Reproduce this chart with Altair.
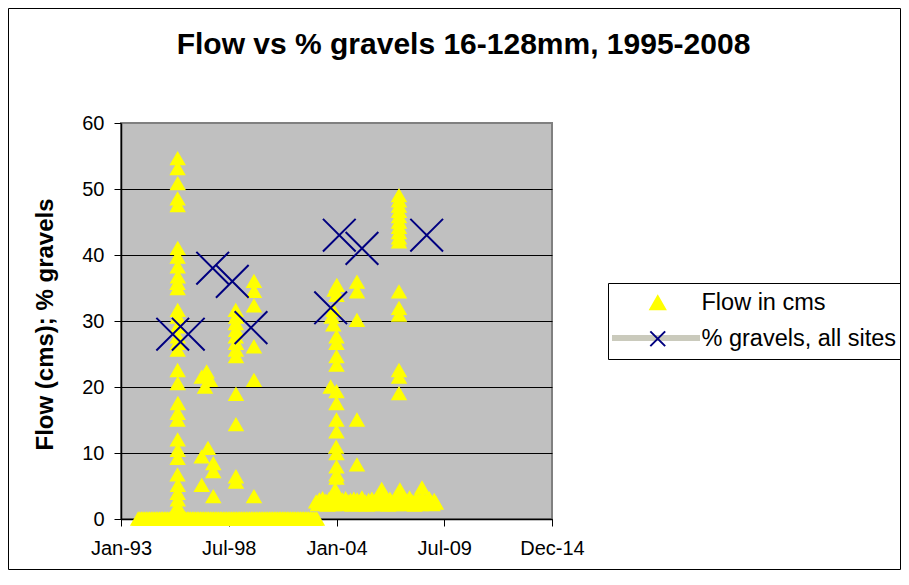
import altair as alt
import pandas as pd

TITLE = "Flow vs % gravels 16-128mm, 1995-2008"
Y_TITLE = "Flow (cms); % gravels"
SERIES = ["Flow in cms", "% gravels, all sites"]
SERIES_COLORS = ["#FFFF00", "#000080"]
X_SHAPE = "M-1,-1L1,1M-1,1L1,-1"
Y_TICKS = [0, 10, 20, 30, 40, 50, 60]
X_TICKS = [(1993, 1, 31), (1998, 7, 24), (2004, 1, 14), (2009, 7, 6), (2014, 12, 27)]

# % gravels, all sites
GRAVEL_DATES = ["1995-09-18", "1996-07-03", "1997-09-29", "1998-09-28", "1999-09-10",
                "2003-09-28", "2004-03-06", "2005-05-01", "2008-08-14"]
GRAVEL_PCT = [28, 28, 38, 36, 29, 32, 43, 41, 43]

# Flow in cms: readings at zero, 1993-2003
FLOW_ZERO_DATES = [
    "1993-12-15",
    "1994-01-15", "1994-02-15", "1994-03-15", "1994-04-15", "1994-05-15", "1994-06-15",
    "1994-07-15", "1994-08-15", "1994-09-15", "1994-10-15", "1994-11-15", "1994-12-15",
    "1995-01-15", "1995-02-15", "1995-03-15", "1995-04-15", "1995-05-15", "1995-06-15",
    "1995-07-15", "1995-08-15", "1995-09-15", "1995-10-15", "1995-11-15", "1995-12-15",
    "1996-01-15", "1996-02-15", "1996-03-15", "1996-04-15", "1996-05-15", "1996-06-15",
    "1996-07-15", "1996-08-15", "1996-09-15", "1996-10-15", "1996-11-15", "1996-12-15",
    "1997-01-15", "1997-02-15", "1997-03-15", "1997-04-15", "1997-05-15", "1997-06-15",
    "1997-07-15", "1997-08-15", "1997-09-15", "1997-10-15", "1997-11-15", "1997-12-15",
    "1998-01-15", "1998-02-15", "1998-03-15", "1998-04-15", "1998-05-15", "1998-06-15",
    "1998-07-15", "1998-08-15", "1998-09-15", "1998-10-15", "1998-11-15", "1998-12-15",
    "1999-01-15", "1999-02-15", "1999-03-15", "1999-04-15", "1999-05-15", "1999-06-15",
    "1999-07-15", "1999-08-15", "1999-09-15", "1999-10-15", "1999-11-15", "1999-12-15",
    "2000-01-15", "2000-02-15", "2000-03-15", "2000-04-15", "2000-05-15", "2000-06-15",
    "2000-07-15", "2000-08-15", "2000-09-15", "2000-10-15", "2000-11-15", "2000-12-15",
    "2001-01-15", "2001-02-15", "2001-03-15", "2001-04-15", "2001-05-15", "2001-06-15",
    "2001-07-15", "2001-08-15", "2001-09-15", "2001-10-15", "2001-11-15", "2001-12-15",
    "2002-01-15", "2002-02-15", "2002-03-15", "2002-04-15", "2002-05-15", "2002-06-15",
    "2002-07-15", "2002-08-15", "2002-09-15", "2002-10-15", "2002-11-15", "2002-12-15",
    "2003-01-15",
]

# Flow in cms: low base flow, 2003-2009
FLOW_BASE_DATES = [
    "2003-01-01", "2003-02-01", "2003-03-01", "2003-04-01", "2003-05-01", "2003-06-01",
    "2003-07-01", "2003-08-01", "2003-09-01", "2003-10-01", "2003-11-01", "2003-12-01",
    "2004-01-01", "2004-02-01", "2004-03-01", "2004-04-01", "2004-05-01", "2004-06-01",
    "2004-07-01", "2004-08-01", "2004-09-01", "2004-10-01", "2004-11-01", "2004-12-01",
    "2005-01-01", "2005-02-01", "2005-03-01", "2005-04-01", "2005-05-01", "2005-06-01",
    "2005-07-01", "2005-08-01", "2005-09-01", "2005-10-01", "2005-11-01", "2005-12-01",
    "2006-01-01", "2006-02-01", "2006-03-01", "2006-04-01", "2006-05-01", "2006-06-01",
    "2006-07-01", "2006-08-01", "2006-09-01", "2006-10-01", "2006-11-01", "2006-12-01",
    "2007-01-01", "2007-02-01", "2007-03-01", "2007-04-01", "2007-05-01", "2007-06-01",
    "2007-07-01", "2007-08-01", "2007-09-01", "2007-10-01", "2007-11-01", "2007-12-01",
    "2008-01-01", "2008-02-01", "2008-03-01", "2008-04-01", "2008-05-01", "2008-06-01",
    "2008-07-01", "2008-08-01", "2008-09-01", "2008-10-01", "2008-11-01", "2008-12-01",
    "2009-01-01", "2009-02-01",
]
FLOW_BASE = [
    2.6, 2.2, 2.9, 2.4, 3.1, 2.3, 2.7, 2.1, 3.0, 2.5, 2.8, 2.2,
    3.2, 2.4, 2.7, 2.2, 2.9, 2.5, 3.1, 2.3, 2.6, 2.8, 2.1, 3.0,
    2.4, 2.9, 2.2, 2.7, 3.2, 2.3, 2.6, 2.1, 2.8, 2.5, 3.0, 2.2,
    2.7, 2.3, 3.1, 2.5, 2.2, 2.9, 2.4, 2.7, 2.1, 3.0, 2.6, 2.3,
    2.8, 2.2, 2.6, 3.1, 2.4, 2.9, 2.2, 2.7, 2.5, 3.2, 2.3, 2.6,
    2.1, 2.9, 2.4, 2.8, 2.2, 3.0, 2.5, 2.7, 2.3, 3.1, 2.6, 2.2,
    2.8, 2.4,
]

# Flow in cms: high-flow readings
FLOW_PEAK_DATES = [
    # winter 1995-96
    "1995-12-19", "1995-12-17", "1995-12-20", "1995-12-18", "1995-12-19",
    "1995-12-21", "1995-12-18", "1995-12-19", "1995-12-22", "1995-12-16", "1995-12-19",
    "1995-12-20", "1995-12-18", "1995-12-19", "1995-12-21", "1995-12-17", "1995-12-19",
    "1995-12-18", "1995-12-20", "1995-12-23", "1995-12-19", "1995-12-17",
    "1995-12-19", "1995-12-21", "1995-12-18",
    "1995-12-16", "1995-12-22", "1995-12-19", "1995-12-21", "1995-12-18", "1995-12-20",
    # 1997
    "1997-06-09", "1997-03-09", "1997-08-10", "1997-05-09", "1997-07-04",
    "1997-03-09", "1997-10-10", "1997-10-10", "1997-03-09", "1997-10-10",
    # winter 1998-99
    "1998-12-01", "1998-12-08", "1998-12-03", "1998-12-06", "1998-12-02", "1998-12-07",
    "1998-12-04", "1998-12-05", "1998-12-05", "1998-12-05", "1998-12-05", "1998-12-06",
    # winter 1999-2000
    "1999-11-04", "1999-11-04", "1999-11-04", "1999-11-04", "1999-11-04", "1999-11-04",
    # winter 2003-04
    "2004-01-20", "2003-12-10", "2004-01-14", "2003-11-16", "2003-10-17", "2003-11-16",
    "2004-01-14", "2004-01-14", "2004-01-14", "2004-01-14", "2003-09-28", "2004-01-14",
    "2004-01-14", "2004-01-14", "2004-01-14", "2004-01-08", "2004-01-14", "2004-01-14",
    "2004-01-14", "2004-01-14", "2003-12-20",
    # winter 2004-05
    "2005-01-28", "2005-01-28", "2005-01-28", "2005-01-28", "2005-01-28",
    # 2006-2008
    "2006-05-02", "2007-04-05", "2008-05-19",
    # winter 2006-07
    "2007-03-19", "2007-03-19", "2007-03-19", "2007-03-19", "2007-03-19", "2007-03-19",
    "2007-03-19", "2007-03-19", "2007-03-19", "2007-03-19", "2007-03-19", "2007-03-19",
    "2007-03-19", "2007-03-19", "2007-03-19", "2007-03-19",
]
FLOW_PEAK = [
    54.6, 53.1, 50.8, 48.5, 47.5,
    41.0, 39.7, 38.2, 36.7, 35.7, 34.9,
    31.6, 30.6, 29.1, 27.6, 26.6, 25.6,
    22.5, 20.5, 17.5, 16.0, 15.0,
    12.0, 10.4, 9.2,
    6.7, 5.1, 3.9, 2.9, 1.9, 0.9,
    22.3, 21.5, 21.0, 20.0, 10.7,
    9.4, 8.4, 7.2, 5.1, 3.4,
    31.6, 30.6, 29.6, 28.6, 27.6, 26.6,
    25.6, 24.6, 18.9, 14.3, 6.4, 5.6,
    36.0, 34.5, 32.3, 26.1, 21.0, 3.4,
    35.4, 34.7, 33.9, 31.6, 30.6, 29.4,
    27.6, 26.6, 24.6, 23.3, 20.0, 19.3,
    17.5, 15.0, 13.2, 10.9, 9.9, 7.9,
    6.7, 6.2, 4.4,
    35.9, 34.4, 30.1, 15.0, 8.2,
    4.5, 4.4, 4.7,
    49.0, 48.2, 47.4, 46.6, 45.8, 45.0,
    44.2, 43.4, 42.6, 42.0, 34.4, 31.9,
    30.9, 22.5, 21.5, 19.0,
]

FONT = "Liberation Sans"

flow_rows = []
for d in FLOW_ZERO_DATES:
    flow_rows.append({"date": d, "value": 0.0, "series": SERIES[0]})
for d, v in zip(FLOW_BASE_DATES, FLOW_BASE):
    flow_rows.append({"date": d, "value": v, "series": SERIES[0]})
for d, v in zip(FLOW_PEAK_DATES, FLOW_PEAK):
    flow_rows.append({"date": d, "value": v, "series": SERIES[0]})
flow_df = pd.DataFrame(flow_rows)
gravel_df = pd.DataFrame({"date": GRAVEL_DATES, "value": GRAVEL_PCT, "series": SERIES[1]})


def dt(t):
    return alt.DateTime(year=t[0], month=t[1], date=t[2], utc=True)


x_enc = alt.X(
    "date:T",
    scale=alt.Scale(type="utc", domain=[dt(X_TICKS[0]), dt(X_TICKS[-1])]),
    axis=alt.Axis(
        values=[dt(t) for t in X_TICKS], format="%b-%y",
        title=None, grid=False, labelFontSize=20, labelFont=FONT,
        labelColor="black", tickColor="black", tickSize=7, labelPadding=12,
        domainColor="black", domainWidth=1.5, labelFlush=False,
    ),
)
y_enc = alt.Y(
    "value:Q",
    scale=alt.Scale(domain=[0, 60], nice=False),
    axis=alt.Axis(
        values=Y_TICKS, title=Y_TITLE, grid=True,
        gridColor={"condition": {"test": "datum.value === 60", "value": "#808080"}, "value": "black"},
        gridWidth=1, labelFontSize=20, labelFont=FONT, labelColor="black",
        tickColor="black", tickSize=7, labelPadding=10, domainColor="black",
        domainWidth=1.5, titleFont=FONT, titleFontSize=24, titleFontWeight="bold",
        titleColor="black", titleX=-76, titleY=201, titleAngle=270,
        titleAlign="center", titleBaseline="middle", labelFlush=False,
    ),
)
shape_enc = alt.Shape("series:N", scale=alt.Scale(domain=SERIES, range=["triangle-up", X_SHAPE]),
                      legend=alt.Legend(title=None))
fill_enc = alt.Fill("series:N", scale=alt.Scale(domain=SERIES, range=SERIES_COLORS),
                    legend=alt.Legend(title=None))
stroke_enc = alt.Stroke("series:N", scale=alt.Scale(domain=SERIES, range=SERIES_COLORS),
                        legend=alt.Legend(title=None))

flow = alt.Chart(flow_df).mark_point(filled=True, opacity=1, strokeWidth=2, size=170).encode(
    x=x_enc, y=y_enc, shape=shape_enc, fill=fill_enc, stroke=stroke_enc
)
gravel = alt.Chart(gravel_df).mark_point(filled=True, opacity=1, strokeWidth=2, size=1070).encode(
    x=x_enc, y=y_enc, shape=shape_enc, fill=fill_enc, stroke=stroke_enc
)

legend_line = alt.Chart(alt.Data(values=[{"k": 1}])).mark_rect(color="#CACABC").encode(
    x=alt.value(491), x2=alt.value(579), y=alt.value(212), y2=alt.value(218)
)

border = alt.Chart(alt.Data(values=[{"k": 1}])).mark_rect(
    fillOpacity=0, stroke="black", strokeWidth=1
).encode(
    x=alt.value(-112.5), x2=alt.value(779.5), y=alt.value(-114.5), y2=alt.value(446.5)
)

chart = alt.layer(legend_line, flow, gravel, border).properties(
    width=431, height=396,
    autosize=alt.AutoSizeParams(type="none"),
    padding={"left": 113, "top": 115, "right": 349, "bottom": 51},
    background="white",
    title=alt.TitleParams(
        TITLE, fontSize=30, font=FONT, fontWeight="bold", color="black",
        anchor="middle", dx=127, offset=-52,
    ),
).configure_view(
    fill="#C0C0C0", stroke="#808080", strokeWidth=2
).configure_legend(
    orient="none", legendX=487, legendY=160, direction="vertical",
    strokeColor="black", fillColor="transparent", padding=8, symbolOffset=30,
    labelOffset=32, rowPadding=11, labelFontSize=23.5, labelFont=FONT,
    labelColor="black", symbolSize=220, symbolStrokeWidth=2, labelLimit=400,
    cornerRadius=0, zindex=2,
)

chart.save("out.html", embed_options={"renderer": "svg", "actions": False})
